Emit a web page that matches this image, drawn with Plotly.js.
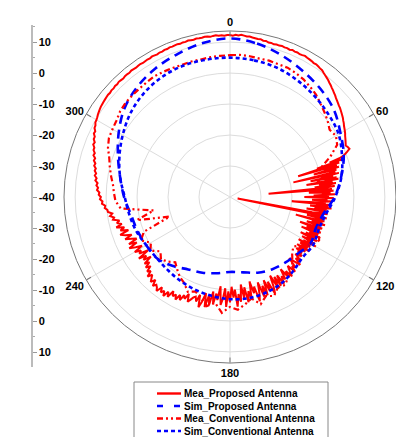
<!DOCTYPE html>
<html><head><meta charset="utf-8">
<script src="https://cdn.plot.ly/plotly-3.0.1.min.js"></script>
<style>html,body{margin:0;padding:0;background:#fff}#c{width:396px;height:437px}</style>
</head><body><div id="c"></div>
<script>
// ---------- data (dB vs angle, degrees clockwise from top) ----------
const seriesNames = ["Mea_Proposed Antenna","Sim_Proposed Antenna","Mea_Conventional Antenna","Sim_Conventional Antenna"];

// Mea_Proposed, part A: 0..69 deg, 1 deg steps
const meaPropThetaA = Array.from({length:70},(_,i)=>i);
const meaPropRA = [
12.3,12.1,12.4,12.2,12.5,12.3,12.1,12.2,12.0,11.9,
11.8,11.9,11.6,11.7,11.4,11.5,11.3,11.5,11.4,11.6,
11.4,11.5,11.3,11.6,11.4,11.5,11.3,11.4,11.6,11.4,
11.3,11.2,11.0,11.1,10.9,10.7,10.6,10.2,9.9,9.6,
9.3,8.9,8.6,8.2,7.9,7.5,7.2,6.8,6.5,6.2,
5.9,5.7,5.4,5.1,4.8,4.5,4.1,3.8,3.4,3.1,
2.8,2.5,2.1,1.8,1.5,1.2,0.9,1.3,1.6,0.4];
// Mea_Proposed, part B: 70..129.5 deg, 0.5 deg steps (noisy region)
const meaPropThetaB = Array.from({length:120},(_,i)=>70+i*0.5);
const meaPropRB = [
-1.0,-2.5,-6.0,-2.0,-10.5,-3.0,-17.0,-4.0,-8.5,-3.5,
-12.0,-4.5,-7.0,-5.0,-19.0,-4.0,-10.0,-6.0,-13.5,-5.0,
-9.0,-4.5,-15.0,-6.5,-11.0,-5.5,-8.5,-12.5,-6.0,-10.0,
-27.5,-7.0,-12.0,-6.5,-14.5,-7.5,-10.0,-6.0,-13.0,-8.0,
-16.0,-6.5,-11.0,-8.5,-13.5,-7.0,-10.5,-9.0,-20.0,-7.5,
-12.0,-8.0,-14.0,-7.0,-10.0,-12.5,-8.5,-15.0,-9.0,-11.0,
-8.0,-13.0,-37.5,-9.5,-12.0,-8.0,-14.5,-9.0,-11.5,-8.5,
-18.0,-9.0,-12.5,-8.0,-10.5,-14.0,-9.5,-12.0,-8.5,-16.0,
-9.0,-11.5,-13.5,-8.5,-10.0,-15.0,-9.0,-12.0,-10.5,-8.0,
-13.0,-9.5,-11.0,-14.5,-8.5,-12.0,-10.0,-13.5,-9.0,-11.5,
-8.0,-12.5,-10.0,-14.0,-9.5,-11.0,-13.0,-10.0,-12.0,-9.0,
-13.5,-11.0,-10.0,-12.5,-11.5,-13.0,-10.5,-12.0,-11.0,-10.0];
// Mea_Proposed, part C: 130..359 deg, 1 deg steps
const meaPropThetaC = Array.from({length:230},(_,i)=>130+i);
const meaPropRC = [
-10.5,-12.0,-9.5,-11.0,-8.5,-10.5,-12.5,-9.0,-10.0,-8.0,
-11.0,-9.5,-7.5,-10.0,-8.5,-11.5,-8.0,-9.5,-7.0,-10.5,
-7.0,-10.5,-6.5,-11.5,-8.0,-5.5,-10.0,-7.0,-11.0,-6.0,
-9.5,-6.0,-11.0,-7.5,-5.0,-10.0,-8.0,-12.0,-6.5,-9.0,
-5.5,-10.5,-7.0,-11.5,-6.0,-8.5,-4.5,-10.0,-7.5,-11.0,
-6.0,-9.5,-4.5,-10.5,-7.0,-5.0,-11.0,-6.5,-8.5,-5.0,
-9.0,-4.5,-7.5,-3.5,-8.0,-5.0,-3.0,-7.0,-4.5,-6.0,
-5.5,-4.5,-3.5,-6.0,-4.0,-5.0,-3.0,-4.5,-2.5,-4.0,
-3.0,-4.5,-2.0,-3.5,-1.5,-3.0,-2.0,-3.5,-1.5,-2.5,
-3.0,-2.0,-4.0,-2.5,-3.5,-4.5,-3.0,-5.0,-4.0,-6.0,
-4.5,-6.5,-5.0,-8.0,-5.5,-7.0,-4.5,-8.5,-5.5,-6.5,
-4.5,-7.5,-5.5,-3.5,-6.5,-4.0,-7.0,-5.5,-3.5,-6.0,
-4.0,-2.5,-5.5,-3.0,-4.5,-2.0,-4.0,-2.5,-3.5,-1.5,
-2.0,-0.8,-1.6,-0.3,-0.2,0.6,0.4,1.4,1.2,2.0,
1.7,2.4,2.2,3.0,2.7,3.3,3.0,3.8,3.5,4.2,
3.9,4.5,4.3,5.0,4.8,5.5,5.3,6.1,5.9,6.6,
6.6,7.3,7.1,7.8,7.8,8.5,8.4,9.1,9.2,9.7,
9.8,10.0,10.3,10.5,10.7,10.9,11.0,11.1,11.2,11.3,
11.4,11.3,11.5,11.4,11.6,11.5,11.7,11.6,11.5,11.7,
11.7,11.6,11.8,11.7,11.6,11.7,11.8,11.6,11.7,11.8,
11.7,11.9,11.8,11.7,11.9,11.8,12.0,11.9,12.1,12.0,
12.1,12.2,12.0,12.2,12.1,12.3,12.2,12.1,12.3,12.2,
12.2,12.4,12.3,12.1,12.3,12.4,12.2,12.3,12.1,12.3];

// Sim_Proposed: 10 degree steps
const simPropTheta = [0,10,20,30,40,50,60,70,80,90,100,110,120,130,140,150,160,170,180,190,200,210,220,230,240,250,260,270,280,290,300,310,320,330,340,350,360];
const simPropR = [11.2,10.3,8.7,7.0,5.5,3.8,1.2,-0.9,-3.6,-6.2,-9.3,-10.5,-10.0,-11.5,-12.3,-13.0,-14.0,-15.3,-15.8,-15.0,-14.0,-13.0,-11.0,-9.2,-8.8,-8.2,-7.5,-5.8,-4.0,-1.5,1.5,4.5,6.5,8.0,9.2,10.5,11.2];

// Mea_Conventional: 4 degree steps
const meaConvTheta = Array.from({length:90},(_,i)=>i*4);
const meaConvR = [5.8,6.0,5.9,5.7,5.8,5.6,5.7,5.3,4.8,4.0,
3.2,2.0,1.0,0.0,-1.2,-0.5,-1.5,-5.0,-9.0,-6.0,
-11.0,-8.0,-10.0,-9.0,-12.0,-10.0,-11.5,-10.0,-9.0,-8.0,
-9.5,-12.0,-14.0,-13.0,-11.0,-9.0,-8.0,-6.5,-7.0,-5.0,
-6.0,-4.0,-6.5,-5.0,-3.5,-4.5,-2.5,-5.5,-4.0,-6.0,
-7.5,-6.5,-8.5,-9.5,-11.0,-12.5,-11.0,-10.0,-11.5,-9.0,
-10.5,-8.0,-10.0,-19.5,-9.0,-15.0,-4.5,-3.0,-2.5,-2.0,
-1.0,0.0,1.0,2.5,3.5,3.8,4.2,5.0,5.4,5.5,
5.6,5.8,6.0,5.8,5.6,5.4,5.5,5.4,5.6,5.7];

// Sim_Conventional: 10 degree steps
const simConvTheta = [0,10,20,30,40,50,60,70,80,90,100,110,120,130,140,150,160,170,180,190,200,210,220,230,240,250,260,270,280,290,300,310,320,330,340,350,360];
const simConvR = [5.0,4.8,4.4,3.5,2.5,1.5,0.5,-1.5,-3.5,-6.0,-8.5,-9.5,-9.0,-9.5,-8.5,-7.5,-7.0,-6.8,-7.0,-7.5,-8.0,-8.5,-9.0,-9.2,-8.8,-7.8,-7.0,-6.0,-4.0,-2.0,0.0,2.0,3.5,4.5,5.0,5.0,5.0];

// left radial scale labels (top to bottom)
const leftTickVals = [50,40,30,20,10,0,-10,-20,-30,-40,-50];
const leftTickText = ["10","0","-10","-20","-30","-40","-30","-20","-10","0","10"];
const angTickVals = [0,60,120,180,240,300];

// ---------- chart ----------
const W=396,H=437;
const px=(x)=>x/W, py=(y)=>(H-y)/H;
const FONT="Arial, 'Liberation Sans', sans-serif";

const meaPropTheta = meaPropThetaA.concat(meaPropThetaB, meaPropThetaC, [360]);
const meaPropR = meaPropRA.concat(meaPropRB, meaPropRC, [meaPropRA[0]]);

const styles = [
  {color:"#ff0000", width:2.0, dash:"solid"},
  {color:"#0000ff", width:2.6, dash:"9px,6px"},
  {color:"#ff0000", width:2.2, dash:"6px,3px,2px,3px,2px,3px"},
  {color:"#0000ff", width:2.6, dash:"4px,3px"}
];
const th=[meaPropTheta, simPropTheta, meaConvTheta.concat([360]), simConvTheta];
const rr=[meaPropR, simPropR, meaConvR.concat([meaConvR[0]]), simConvR];

const traces = [];
for(let i=0;i<4;i++){
  traces.push({type:"scatterpolar", mode:"lines", name:seriesNames[i], theta:th[i], r:rr[i],
    line:{color:styles[i].color,width:styles[i].width,dash:styles[i].dash, shape:(i%2===1)?"spline":"linear"},
    showlegend:false, hoverinfo:"skip"});
}
// carrier trace for left vertical scale
traces.push({type:"scatter", x:[0], y:[0], mode:"markers", marker:{opacity:0}, showlegend:false, hoverinfo:"skip", xaxis:"x", yaxis:"y"});

const shapes=[], annotations=[];
shapes.push({type:"rect", xref:"paper", yref:"paper", x0:px(134), x1:px(328), y0:py(382), y1:py(446), line:{color:"#888", width:1}, fillcolor:"rgba(0,0,0,0)"});
const rowsY=[393.5,406,418.5,431];
for(let i=0;i<4;i++){
  shapes.push({type:"line", xref:"paper", yref:"paper", x0:px(157), x1:px(181), y0:py(rowsY[i]), y1:py(rowsY[i]),
    line:{color:styles[i].color, width:2.4, dash:styles[i].dash==="9px,6px"?"6px,11px":styles[i].dash}});
  annotations.push({xref:"paper", yref:"paper", x:px(182), y:py(rowsY[i]), xanchor:"left", yanchor:"middle", showarrow:false,
    text:"<b>"+seriesNames[i]+"</b>", font:{family:FONT, size:10, color:"#000"}});
}

const layout = {
  width:W, height:H, margin:{l:0,r:0,t:0,b:0}, paper_bgcolor:"#fff", plot_bgcolor:"rgba(0,0,0,0)",
  showlegend:false,
  polar:{
    domain:{x:[px(64),1], y:[py(363),py(31)]},
    bgcolor:"#fff",
    radialaxis:{range:[-40,13.6], tickvals:[-30,-20,-10,0,10], showticklabels:false, ticks:"", showline:false, gridcolor:"#dcdcdc", gridwidth:1},
    angularaxis:{rotation:90, direction:"clockwise", tickvals:angTickVals, ticktext:angTickVals.map(v=>"<b>"+v+"</b>"),
      ticks:"inside", ticklen:5, tickcolor:"#777", linecolor:"#777", linewidth:1, gridcolor:"#dcdcdc",
      tickfont:{family:FONT, size:11, color:"#000"}}
  },
  xaxis:{domain:[0,px(31)], visible:false, range:[0,1], fixedrange:true},
  yaxis:{domain:[py(367),py(25)], range:[-54.8,55.5], anchor:"x", side:"right", position:0,
    tickmode:"array", tickvals:leftTickVals, ticktext:leftTickText.map(t=>"<b>"+t+"</b>"),
    showline:true, linecolor:"#bbb", linewidth:1.5, ticks:"outside", ticklen:4, tickcolor:"#999",
    minor:{ticks:"outside", dtick:5, tick0:0, ticklen:2, tickcolor:"#aaa"},
    showgrid:false, zeroline:false, tickfont:{family:FONT, size:11, color:"#000"}},
  shapes, annotations
};
Plotly.newPlot("c", traces, layout, {staticPlot:true, displayModeBar:false});
</script></body></html>
